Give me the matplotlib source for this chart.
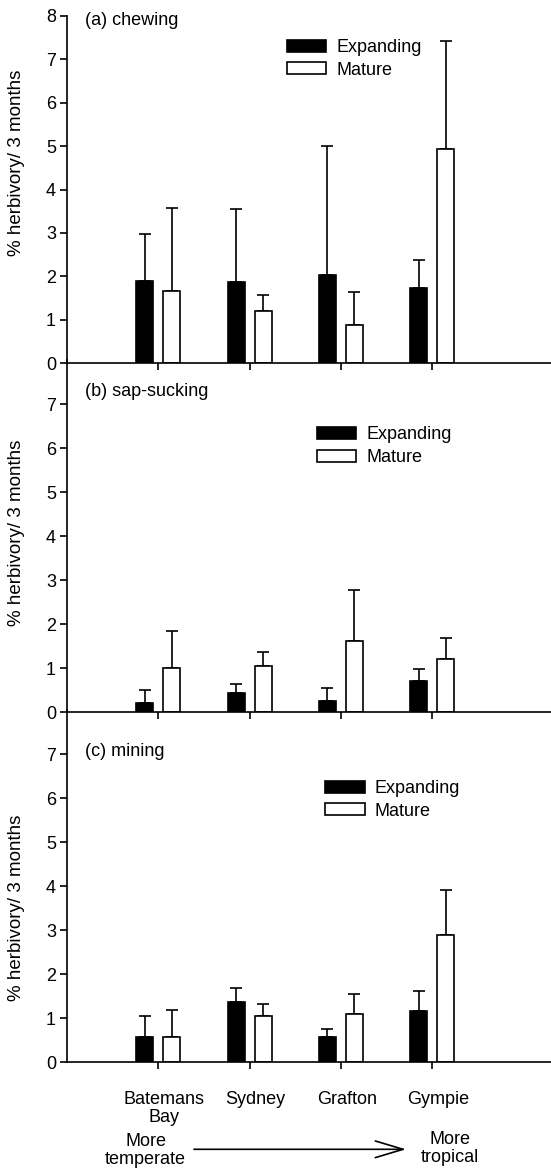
import numpy as np
import matplotlib
matplotlib.use("Agg")
import matplotlib.pyplot as plt
import matplotlib.transforms as mtransforms

plt.rcParams["font.family"] = ["Liberation Sans", "DejaVu Sans"]

sites = ["Batemans\nBay", "Sydney", "Grafton", "Gympie"]
panels = ["(a) chewing", "(b) sap-sucking", "(c) mining"]

# mean and upper error bar tip
chew_exp = [1.90, 1.86, 2.02, 1.73]
chew_exp_top = [2.98, 3.54, 5.00, 2.37]
chew_mat = [1.65, 1.19, 0.87, 4.94]
chew_mat_top = [3.57, 1.56, 1.64, 7.42]

sap_exp = [0.22, 0.45, 0.25, 0.72]
sap_exp_top = [0.51, 0.64, 0.56, 0.98]
sap_mat = [1.01, 1.05, 1.61, 1.21]
sap_mat_top = [1.84, 1.36, 2.79, 1.70]

mine_exp = [0.57, 1.38, 0.57, 1.17]
mine_exp_top = [1.05, 1.70, 0.76, 1.61]
mine_mat = [0.57, 1.05, 1.10, 2.89]
mine_mat_top = [1.20, 1.32, 1.55, 3.91]

W, H = 551, 1170
fig = plt.figure(figsize=(W / 100, H / 100), dpi=100)

left = 67 / W
width = 1 - left
# (bottom px, top px) for each panel
boxes = [(363, 16), (712.3, 360.3), (1062.3, 710.3)]
legend_pos = [(0.454, 0.933), (0.516, 0.812), (0.533, 0.801)]
label_y = [0.988, 0.911, 0.882]
ylabel_y = [0.576, 0.511, 0.4375]

data = [
    (chew_exp, chew_exp_top, chew_mat, chew_mat_top),
    (sap_exp, sap_exp_top, sap_mat, sap_mat_top),
    (mine_exp, mine_exp_top, mine_mat, mine_mat_top),
]

x = np.arange(1, len(sites) + 1)
off = 0.148
bw = 0.185
lw = 1.2
fs = 13

axes = []
for i, (exp, exp_top, mat, mat_top) in enumerate(data):
    b, t = boxes[i]
    ax = fig.add_axes([left, 1 - b / H, width, (b - t) / H])
    axes.append(ax)
    exp = np.array(exp)
    mat = np.array(mat)
    h1 = ax.bar(x - off, exp, bw, color="black", edgecolor="black",
                linewidth=lw, label="Expanding", zorder=2)
    h2 = ax.bar(x + off, mat, bw, color="white", edgecolor="black",
                linewidth=lw, label="Mature", zorder=2)
    ax.errorbar(x - off, exp, yerr=[np.zeros(4), np.array(exp_top) - exp],
                fmt="none", ecolor="black", elinewidth=lw, capsize=4,
                capthick=lw, zorder=1)
    ax.errorbar(x + off, mat, yerr=[np.zeros(4), np.array(mat_top) - mat],
                fmt="none", ecolor="black", elinewidth=lw, capsize=4,
                capthick=lw, zorder=1)

    ax.set_xlim(0, 5.3)
    ax.set_ylim(0, 8)
    if i == 0:
        ax.set_yticks(range(0, 9))
    else:
        ax.set_yticks(range(0, 8))
    ax.set_xticks(x)
    ax.spines["top"].set_visible(False)
    ax.spines["right"].set_visible(False)
    ax.spines["left"].set_linewidth(lw)
    ax.spines["bottom"].set_linewidth(lw)
    ax.spines["left"].set_zorder(3)
    ax.spines["bottom"].set_zorder(3)
    ax.tick_params(direction="out", length=5, width=lw, labelsize=fs, pad=3)
    ax.patch.set_alpha(0)

    ax.set_ylabel("% herbivory/ 3 months", fontsize=13.5)
    ax.yaxis.set_label_coords(-0.087, ylabel_y[i])
    ax.text(0.037, label_y[i], panels[i], transform=ax.transAxes,
            fontsize=fs, va="center", ha="left")
    ax.legend(handles=[h1, h2], loc="upper left", bbox_to_anchor=legend_pos[i],
              frameon=False, fontsize=fs, borderpad=0, borderaxespad=0,
              handlelength=2.2, handleheight=0.65, handletextpad=0.55,
              labelspacing=0.3)

    if i < 2:
        ax.set_xticklabels([])
    else:
        ax.set_xticklabels(sites, fontsize=fs, linespacing=1.05)
        ax.tick_params(axis="x", pad=16)
        shift = mtransforms.ScaledTranslation(6 / 100, 0, fig.dpi_scale_trans)
        for lab in ax.get_xticklabels():
            lab.set_transform(lab.get_transform() + shift)

fig.text(145.7 / W, 1 - 1150.5 / H, "More\ntemperate", ha="center", va="center",
         fontsize=fs, linespacing=1.0)
fig.text(450 / W, 1 - 1148.5 / H, "More\ntropical", ha="center", va="center",
         fontsize=fs, linespacing=1.0)
axes[2].annotate("", xy=(406, H - 1149.3), xytext=(194, H - 1149.3),
                 xycoords="figure pixels", textcoords="figure pixels",
                 annotation_clip=False,
                 arrowprops=dict(arrowstyle="->,head_length=2.0,head_width=0.6",
                                 mutation_scale=10, lw=1.2, color="black",
                                 shrinkA=0, shrinkB=0))

fig.savefig("out.png", dpi=100)
